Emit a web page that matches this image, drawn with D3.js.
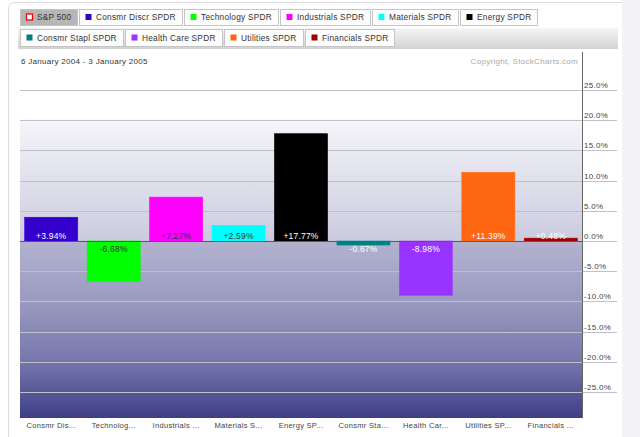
<!DOCTYPE html>
<html>
<head>
<meta charset="utf-8">
<script src="https://cdn.jsdelivr.net/npm/d3@7.9.0/dist/d3.min.js"></script>
<style>
  html, body { margin: 0; padding: 0; background: #fff; }
  svg { display: block; font-family: "Liberation Sans", Arial, sans-serif; }
</style>
</head>
<body>
<svg id="chart" width="640" height="437"></svg>
<script>
// legend tabs (first one is the benchmark)
const tabNames = ['S&P 500', 'Consmr Discr SPDR', 'Technology SPDR', 'Industrials SPDR', 'Materials SPDR', 'Energy SPDR',
  'Consmr Stapl SPDR', 'Health Care SPDR', 'Utilities SPDR', 'Financials SPDR'];
const tabRows = [6, 4];

// sectors and their one-year returns (%)
const sectors = ['Consmr Discr SPDR', 'Technology SPDR', 'Industrials SPDR', 'Materials SPDR', 'Energy SPDR',
  'Consmr Stapl SPDR', 'Health Care SPDR', 'Utilities SPDR', 'Financials SPDR'];
const sectorColors = ['#3300cc', '#00ff00', '#ff00ff', '#00ffff', '#000000', '#008080', '#9933ff', '#ff6611', '#990000'];
const returns = [3.94, -6.68, 7.27, 2.59, 17.77, -0.67, -8.98, 11.39, 0.48];
const axisLabels = ['Consmr Dis...', 'Technolog...', 'Industrials ...', 'Materials S...', 'Energy SP...',
  'Consmr Sta...', 'Health Car...', 'Utilities SP...', 'Financials ...'];
const yTicks = [25, 20, 15, 10, 5, 0, -5, -10, -15, -20, -25];

const dateRange = '6 January 2004 - 3 January 2005';
const copyright = 'Copyright, StockCharts.com';

const loc = d3.formatLocale({ decimal: '.', thousands: ',', grouping: [3], currency: ['$', ''], minus: '-' });
const fmt1 = loc.format('.1f');
const fmt2 = loc.format('+.2f');

const svg = d3.select('#chart');
const defs = svg.append('defs');

// page chrome
svg.append('rect').attr('x', 622).attr('y', 0).attr('width', 18).attr('height', 437).attr('fill', '#f4f4f8');
svg.append('path')
  .attr('d', 'M8.5,437 V9 Q8.5,2.5 15,2.5 H622')
  .attr('fill', 'none').attr('stroke', '#dcdce0');

const band = defs.append('linearGradient').attr('id', 'bandGrad').attr('x1', 0).attr('x2', 0).attr('y1', 0).attr('y2', 1);
band.append('stop').attr('offset', 0).attr('stop-color', '#f6f6f6');
band.append('stop').attr('offset', 1).attr('stop-color', '#d2d2d2');
svg.append('rect').attr('x', 18).attr('y', 28).attr('width', 600).attr('height', 21).attr('fill', 'url(#bandGrad)');

// legend tabs
const colorOf = name => {
  const i = sectors.indexOf(name);
  return i < 0 ? null : sectorColors[i];
};
let idx = 0;
tabRows.forEach((count, r) => {
  let tx = 20;
  const ty = r === 0 ? 9 : 29;
  const th = r === 0 ? 16 : 17;
  tabNames.slice(idx, idx + count).forEach((name, k) => {
    const g = svg.append('g');
    const bench = idx + k === 0;
    const rect = g.append('rect').attr('x', tx + 0.5).attr('y', ty + 0.5).attr('height', th)
      .attr('fill', bench ? '#b6b6b6' : '#fdfdfd').attr('stroke', '#c4c4c4');
    g.append('rect').attr('x', tx + 6.5).attr('y', ty + th / 2 - 3).attr('width', 6).attr('height', 6)
      .attr('fill', bench ? '#fff' : colorOf(name))
      .attr('stroke', bench ? '#ff0000' : 'none').attr('stroke-width', 1.3);
    const t = g.append('text').attr('x', tx + 17).attr('y', ty + th / 2 + 3.2)
      .attr('font-size', '8.3px').attr('letter-spacing', '0.25px').attr('fill', '#333').text(name);
    const w = Math.round(t.node().getComputedTextLength()) + 23;
    rect.attr('width', w);
    tx += w + 2;
  });
  idx += count;
});

// scales
const plotL = 20, plotR = 582, plotT = 52, plotB = 418;
const y = d3.scaleLinear().domain([-29.3, 31.3]).range([plotB, plotT]);
const x = d3.scaleBand().domain(sectors).range([plotL, plotR]).paddingInner(0.15).paddingOuter(0.075);

// plot background gradient
const bg = defs.append('linearGradient').attr('id', 'plotGrad').attr('gradientUnits', 'userSpaceOnUse')
  .attr('x1', 0).attr('x2', 0).attr('y1', plotT).attr('y2', plotB);
[[31.3, '#ffffff'], [20.5, '#ffffff'], [19.5, '#f4f4f9'], [10, '#e0e0ec'], [0.2, '#cbcbdf'],
 [-0.2, '#b2b2cf'], [-10, '#9a9ac0'], [-20, '#7676ad'], [-29.3, '#3e3e88']].forEach(([v, c]) => {
  bg.append('stop').attr('offset', (y(v) - plotT) / (plotB - plotT)).attr('stop-color', c);
});
svg.append('rect').attr('x', plotL).attr('y', plotT).attr('width', plotR - plotL).attr('height', plotB - plotT)
  .attr('fill', 'url(#plotGrad)');

// header texts
svg.append('text').attr('x', 21).attr('y', 64).attr('font-size', '8px').attr('letter-spacing', '0.3px')
  .attr('fill', '#333').text(dateRange);
svg.append('text').attr('x', 578).attr('y', 64).attr('text-anchor', 'end').attr('font-size', '8px')
  .attr('letter-spacing', '0.3px').attr('fill', '#a8a8a8').text(copyright);

// gridlines and tick labels
svg.append('g').selectAll('line').data(yTicks.filter(d => d !== 0)).join('line')
  .attr('x1', plotL).attr('x2', 617).attr('y1', d => Math.round(y(d)) + 0.5).attr('y2', d => Math.round(y(d)) + 0.5)
  .attr('stroke', '#c0c0c8');
svg.append('line').attr('x1', plotR).attr('x2', 617).attr('y1', Math.round(y(0)) + 0.5).attr('y2', Math.round(y(0)) + 0.5)
  .attr('stroke', '#c0c0c8');
svg.append('g').selectAll('text').data(yTicks).join('text')
  .attr('x', 584).attr('y', d => Math.round(y(d)) - 2)
  .attr('font-size', '8px').attr('letter-spacing', '0.3px').attr('fill', '#444')
  .text(d => fmt1(d) + '%');

// bars
const darkText = new Set(['Technology SPDR', 'Industrials SPDR', 'Materials SPDR']);
svg.append('g').selectAll('rect').data(returns).join('rect')
  .attr('x', (d, i) => x(sectors[i]))
  .attr('width', x.bandwidth())
  .attr('y', d => y(Math.max(0, d)))
  .attr('height', d => Math.abs(y(d) - y(0)))
  .attr('fill', (d, i) => sectorColors[i])
  .attr('stroke', (d, i) => d3.color(sectorColors[i]).brighter(0.4))
  .attr('stroke-width', 0.6);

// zero line
svg.append('line').attr('x1', plotL).attr('x2', plotR).attr('y1', Math.round(y(0)) + 0.5).attr('y2', Math.round(y(0)) + 0.5)
  .attr('stroke', '#555a66');

// axis line
svg.append('line').attr('x1', plotR + 0.5).attr('x2', plotR + 0.5).attr('y1', plotT).attr('y2', plotB)
  .attr('stroke', '#666');

// value labels
svg.append('g').selectAll('text').data(returns).join('text')
  .attr('x', (d, i) => x(sectors[i]) + x.bandwidth() / 2)
  .attr('y', d => d >= 0 ? y(0) - 2 : y(0) + 11)
  .attr('text-anchor', 'middle').attr('font-size', '8.5px').attr('letter-spacing', '0.2px')
  .attr('fill', (d, i) => darkText.has(sectors[i]) ? '#333' : '#fff')
  .text(d => fmt2(d) + '%');

// category labels
svg.append('g').selectAll('text').data(axisLabels).join('text')
  .attr('x', (d, i) => x(sectors[i]) + x.bandwidth() / 2)
  .attr('y', 428)
  .attr('text-anchor', 'middle').attr('font-size', '7.5px').attr('letter-spacing', '0.3px').attr('fill', '#444')
  .text(d => d);
</script>
</body>
</html>
